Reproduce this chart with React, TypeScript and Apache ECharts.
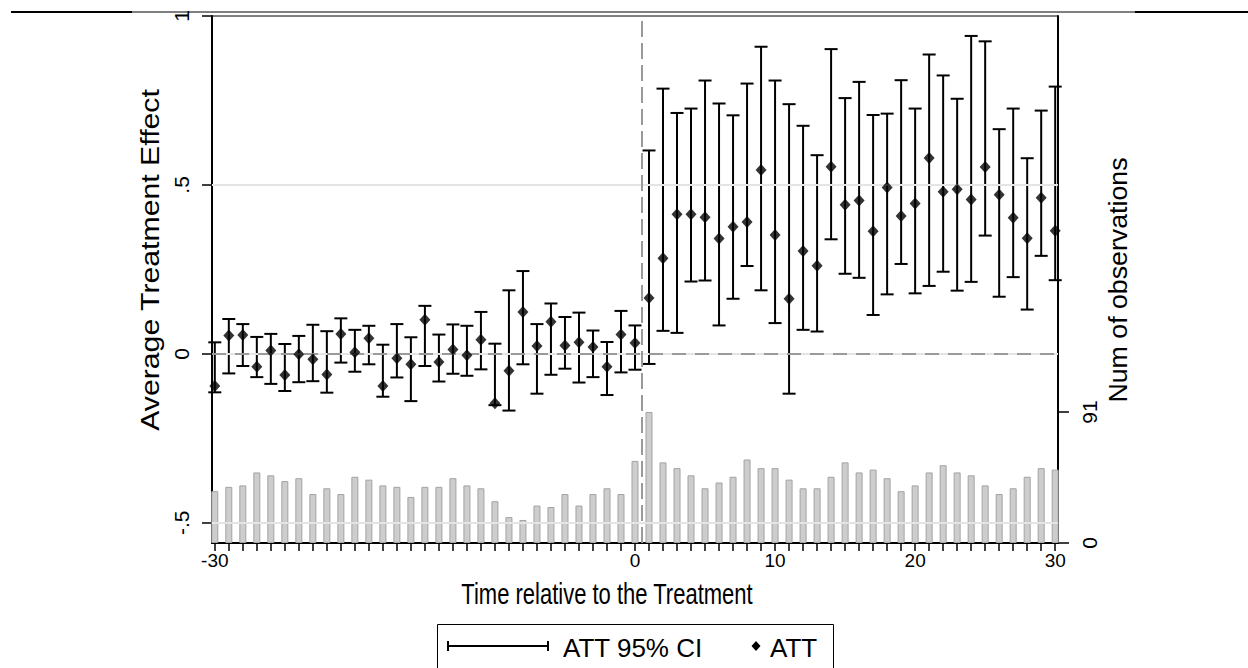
import React, { useEffect, useRef } from "react";
import * as echarts from "echarts";

// ---------- data ----------
const periods = [
  -30, -29, -28, -27, -26, -25, -24, -23, -22, -21, -20, -19, -18, -17, -16, -15,
  -14, -13, -12, -11, -10, -9, -8, -7, -6, -5, -4, -3, -2, -1, 0,
  1, 2, 3, 4, 5, 6, 7, 8, 9, 10, 11, 12, 13, 14, 15,
  16, 17, 18, 19, 20, 21, 22, 23, 24, 25, 26, 27, 28, 29, 30,
];

const att = [
  -0.095, 0.054, 0.056, -0.038, 0.01, -0.063, -0.001, -0.016, -0.061, 0.059, 0.005,
  0.046, -0.095, -0.013, -0.031, 0.101, -0.024, 0.013, -0.004, 0.042, -0.146,
  -0.05, 0.124, 0.023, 0.095, 0.025, 0.034, 0.02, -0.038, 0.057, 0.032,
  0.165, 0.283, 0.413, 0.413, 0.404, 0.341, 0.376, 0.39, 0.544, 0.352,
  0.163, 0.304, 0.261, 0.554, 0.441, 0.454, 0.363, 0.492, 0.408, 0.445,
  0.58, 0.48, 0.487, 0.457, 0.553, 0.471, 0.403, 0.342, 0.462, 0.364,
];

const ciHigh = [
  0.034, 0.103, 0.088, 0.05, 0.059, 0.029, 0.053, 0.086, 0.067, 0.105, 0.071,
  0.083, 0.027, 0.088, 0.049, 0.142, 0.057, 0.087, 0.083, 0.124, 0.03,
  0.188, 0.245, 0.088, 0.149, 0.109, 0.122, 0.069, 0.035, 0.127, 0.084,
  0.602, 0.785, 0.713, 0.726, 0.809, 0.741, 0.706, 0.8, 0.909, 0.809,
  0.739, 0.675, 0.588, 0.902, 0.757, 0.805, 0.707, 0.711, 0.81, 0.726,
  0.886, 0.824, 0.755, 0.941, 0.925, 0.665, 0.726, 0.579, 0.72, 0.791,
];

const ciLow = [
  -0.114, -0.058, -0.036, -0.069, -0.089, -0.11, -0.084, -0.081, -0.115, -0.026, -0.053,
  -0.031, -0.127, -0.07, -0.14, -0.036, -0.082, -0.059, -0.065, -0.046, -0.152,
  -0.168, -0.031, -0.118, -0.062, -0.044, -0.085, -0.069, -0.122, -0.055, -0.047,
  -0.03, 0.068, 0.062, 0.214, 0.217, 0.084, 0.163, 0.26, 0.188, 0.091,
  -0.118, 0.071, 0.066, 0.339, 0.237, 0.225, 0.115, 0.176, 0.266, 0.179,
  0.201, 0.243, 0.187, 0.213, 0.35, 0.169, 0.227, 0.131, 0.29, 0.218,
];

const observations = [
  36, 39, 40, 49, 47, 43, 45, 34, 38, 34, 46, 44, 40, 39, 32, 39,
  39, 45, 40, 38, 29, 18, 16, 26, 25, 34, 26, 34, 38, 34, 57,
  91, 56, 52, 47, 38, 42, 46, 58, 52, 52, 44, 38, 38, 46, 56,
  49, 51, 45, 36, 40, 49, 54, 49, 47, 40, 34, 38, 46, 52, 51,
];

const xTickLabels = [-30, 0, 10, 20, 30];
const yTickLabels = [-0.5, 0, 0.5, 1];
const obsTickLabels = [0, 91];
const gridValues = [-0.5, 0, 0.5];
const treatmentLine = 0.5;

const FONT = "'Liberation Sans', Arial, Helvetica, sans-serif";

const stataNum = (v: number) => {
  if (v === 0) return "0";
  return String(v).replace(/^(-?)0\./, "$1.");
};

export default function App() {
  const ref = useRef<HTMLDivElement>(null);

  useEffect(() => {
    const chart = echarts.init(ref.current!, null, { renderer: "svg" });

    const barData = periods.map((t, i) => [t, observations[i]]);
    const ciData = periods.map((t, i) => [t, ciLow[i], ciHigh[i]]);
    const attData = periods.map((t, i) => [t, att[i]]);

    chart.setOption({
      animation: false,
      backgroundColor: "#ffffff",
      textStyle: { fontFamily: FONT },
      grid: {
        left: 212,
        top: 16,
        width: 846,
        height: 527,
        show: true,
        borderColor: "#000",
        borderWidth: 1,
        backgroundColor: "transparent",
      },
      xAxis: {
        type: "value",
        min: -30.2,
        max: 30.2,
        axisLine: { show: true, onZero: false, lineStyle: { color: "#000", width: 2 } },
        axisTick: {
          show: true,
          customValues: periods,
          length: 8,
          lineStyle: { color: "#000", width: 1.5 },
        },
        axisLabel: {
          customValues: periods,
          hideOverlap: false,
          showMinLabel: true,
          showMaxLabel: true,
          formatter: (v: number) => (xTickLabels.indexOf(Math.round(v)) >= 0 ? String(Math.round(v)) : ""),
          fontSize: 19,
          color: "#000",
          fontFamily: FONT,
          margin: 8,
        },
        splitLine: { show: false },
      },
      yAxis: [
        {
          type: "value",
          min: -0.56,
          max: 1,
          position: "left",
          axisLine: { show: true, onZero: false, lineStyle: { color: "#000", width: 2 } },
          axisTick: {
            show: true,
            customValues: yTickLabels,
            length: 10,
            lineStyle: { color: "#000", width: 1.5 },
          },
          axisLabel: {
            customValues: yTickLabels,
            rotate: 90,
            formatter: (v: number) => stataNum(v),
            fontSize: 21,
            color: "#000",
            fontFamily: FONT,
            margin: 20,
          },
          splitLine: { show: false },
        },
        {
          type: "value",
          min: 0,
          max: 366,
          position: "right",
          axisLine: { show: true, onZero: false, lineStyle: { color: "#000", width: 2 } },
          axisTick: {
            show: true,
            customValues: obsTickLabels,
            length: 11,
            lineStyle: { color: "#000", width: 1.5 },
          },
          axisLabel: {
            customValues: obsTickLabels,
            rotate: 90,
            formatter: (v: number) => String(v),
            fontSize: 21,
            color: "#000",
            fontFamily: FONT,
            margin: 21,
          },
          splitLine: { show: false },
        },
      ],
      series: [
        {
          name: "grid",
          type: "scatter",
          data: [],
          yAxisIndex: 0,
          z: 1,
          silent: true,
          markLine: {
            silent: true,
            symbol: "none",
            label: { show: false },
            lineStyle: { color: "#e4e4e4", width: 2, type: "solid" },
            data: gridValues.map((v) => ({ yAxis: v })),
          },
        },
        {
          name: "Num of observations",
          type: "bar",
          data: barData,
          yAxisIndex: 1,
          barWidth: 7,
          z: 2,
          itemStyle: { color: "#cdcdcd", borderColor: "#a3a3a3", borderWidth: 1 },
        },
        {
          name: "ref",
          type: "scatter",
          data: [],
          yAxisIndex: 0,
          z: 3,
          silent: true,
          markLine: {
            silent: true,
            symbol: "none",
            label: { show: false },
            data: [
              { yAxis: 0, lineStyle: { color: "#9a9a9a", width: 2, type: [14, 9] } },
              { xAxis: treatmentLine, lineStyle: { color: "#9a9a9a", width: 2, type: [16, 6] } },
            ],
          },
        },
        {
          name: "ATT 95% CI",
          type: "custom",
          data: ciData,
          yAxisIndex: 0,
          z: 4,
          encode: { x: 0, y: [1, 2] },
          renderItem: (params: any, api: any) => {
            const x = api.value(0);
            const lo = api.coord([x, api.value(1)]);
            const hi = api.coord([x, api.value(2)]);
            const cap = 6.5;
            const st = { stroke: "#000", lineWidth: 2 };
            return {
              type: "group",
              children: [
                { type: "line", shape: { x1: lo[0], y1: lo[1], x2: hi[0], y2: hi[1] }, style: st },
                { type: "line", shape: { x1: lo[0] - cap, y1: lo[1], x2: lo[0] + cap, y2: lo[1] }, style: st },
                { type: "line", shape: { x1: hi[0] - cap, y1: hi[1], x2: hi[0] + cap, y2: hi[1] }, style: st },
              ],
            };
          },
        },
        {
          name: "ATT",
          type: "scatter",
          data: attData,
          yAxisIndex: 0,
          z: 5,
          symbol: "diamond",
          symbolSize: [11, 12],
          itemStyle: { color: "#000" },
        },
      ],
      graphic: [
        // top rule
        { type: "line", shape: { x1: 11, y1: 12, x2: 1248, y2: 12 }, style: { stroke: "#000", lineWidth: 1 } },
        { type: "line", shape: { x1: 11, y1: 12, x2: 132, y2: 12 }, style: { stroke: "#000", lineWidth: 2 } },
        { type: "line", shape: { x1: 1135, y1: 12, x2: 1248, y2: 12 }, style: { stroke: "#000", lineWidth: 2 } },
        // axis titles
        {
          type: "text",
          x: 150,
          y: 260,
          rotation: Math.PI / 2,
          scaleX: 1.21,
          style: {
            text: "Average Treatment Effect",
            fontSize: 25,
            fontFamily: FONT,
            fill: "#000",
            align: "center",
            verticalAlign: "middle",
          },
        },
        {
          type: "text",
          x: 1118,
          y: 280,
          rotation: Math.PI / 2,
          scaleX: 1.07,
          style: {
            text: "Num of observations",
            fontSize: 25,
            fontFamily: FONT,
            fill: "#000",
            align: "center",
            verticalAlign: "middle",
          },
        },
        {
          type: "text",
          x: 607,
          y: 594,
          scaleY: 1.3,
          style: {
            text: "Time relative to the Treatment",
            fontSize: 22,
            fontFamily: FONT,
            fill: "#000",
            align: "center",
            verticalAlign: "middle",
          },
        },
        // legend
        {
          type: "rect",
          shape: { x: 437.5, y: 624.5, width: 396, height: 60 },
          style: { fill: "#fff", stroke: "#000", lineWidth: 1 },
        },
        { type: "line", shape: { x1: 448, y1: 646, x2: 548, y2: 646 }, style: { stroke: "#000", lineWidth: 2 } },
        { type: "line", shape: { x1: 448, y1: 641, x2: 448, y2: 651 }, style: { stroke: "#000", lineWidth: 2 } },
        { type: "line", shape: { x1: 548, y1: 641, x2: 548, y2: 651 }, style: { stroke: "#000", lineWidth: 2 } },
        {
          type: "text",
          x: 563,
          y: 648,
          style: {
            text: "ATT 95% CI",
            fontSize: 26,
            fontFamily: FONT,
            fill: "#000",
            align: "left",
            verticalAlign: "middle",
          },
        },
        {
          type: "polygon",
          shape: { points: [[756, 641], [760.5, 646], [756, 651], [751.5, 646]] },
          style: { fill: "#000" },
        },
        {
          type: "text",
          x: 770,
          y: 648,
          style: {
            text: "ATT",
            fontSize: 26,
            fontFamily: FONT,
            fill: "#000",
            align: "left",
            verticalAlign: "middle",
          },
        },
      ],
    });

    return () => chart.dispose();
  }, []);

  return (
    <div
      ref={ref}
      style={{ position: "fixed", left: 0, top: 0, width: 1248, height: 668, background: "#fff" }}
    />
  );
}
